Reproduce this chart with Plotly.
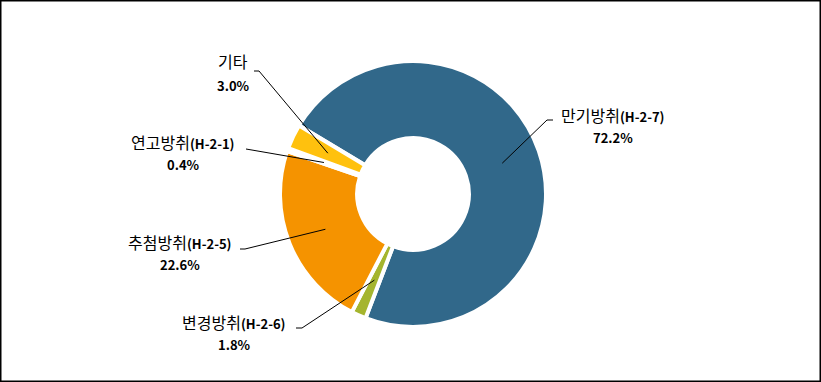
import plotly.graph_objects as go
import numpy as np

# ---- data ----
labels = ["만기방취", "변경방취", "추첨방취", "연고방취", "기타"]
codes = ["(H-2-7)", "(H-2-6)", "(H-2-5)", "(H-2-1)", ""]
values = [72.2, 1.8, 22.6, 0.4, 3.0]
pct_text = ["72.2%", "1.8%", "22.6%", "0.4%", "3.0%"]
colors = ["#31688A", "#A5B52E", "#F59300", "#F2F2F2", "#FFC10E"]

# ---- layout constants (pixels) ----
W, H = 821, 382
CX, CY, R = 413, 194, 133
HOLE = 0.42
ROT = -59

# label centres: (x, y of name line, y of percent line)
label_pos = [(613, 115, 137), (234, 322, 344), (180, 242, 264), (183, 142, 164), (233, 61, 85)]
# leader line points from slice toward label
elbows = [[(547, 120), (553, 120)], [(302, 328), (296, 328)], [(245, 249), (240, 249)],
          [(246, 149)], [(259, 71), (254, 71)]]

FONT = "Noto Sans CJK KR"


def px(x):
    return x / W


def py(y):
    return 1 - y / H


fig = go.Figure(go.Pie(
    labels=labels, values=values, sort=False, direction="clockwise",
    rotation=ROT, hole=HOLE, textinfo="none", hoverinfo="skip",
    marker=dict(colors=colors, line=dict(color="white", width=4)),
    domain=dict(x=[px(CX - R), px(CX + R)], y=[py(CY + R), py(CY - R)]),
    showlegend=False,
))

total = sum(values)
cum = np.cumsum([0] + values[:-1])
r_anchor = R * (1 + HOLE) / 2
shapes = []
annotations = []
for i, v in enumerate(values):
    theta = np.deg2rad(ROT + 360 * (cum[i] + v / 2) / total)
    ax = CX + r_anchor * np.sin(theta)
    ay = CY - r_anchor * np.cos(theta)
    pts = [(ax, ay)] + elbows[i]
    path = "M " + " L ".join(f"{px(x)},{py(y)}" for x, y in pts)
    shapes.append(dict(type="path", xref="paper", yref="paper", path=path,
                       line=dict(color="black", width=1)))
    lx, ly1, ly2 = label_pos[i]
    name = labels[i]
    if codes[i]:
        name += f"<span style='font-size:13px'><b>{codes[i]}</b></span>"
    annotations.append(dict(x=px(lx), y=py(ly1), xref="paper", yref="paper", text=name,
                            showarrow=False, xanchor="center", yanchor="middle",
                            font=dict(family=FONT, size=16, color="black")))
    annotations.append(dict(x=px(lx), y=py(ly2), xref="paper", yref="paper",
                            text=f"<b>{pct_text[i]}</b>",
                            showarrow=False, xanchor="center", yanchor="middle",
                            font=dict(family=FONT, size=13, color="black")))

shapes.append(dict(type="rect", xref="paper", yref="paper",
                   x0=0.75 / W, x1=1 - 0.75 / W, y0=0.75 / H, y1=1 - 0.75 / H,
                   line=dict(color="black", width=1.5)))

fig.update_layout(
    width=W, height=H, margin=dict(l=0, r=0, t=0, b=0),
    paper_bgcolor="white", plot_bgcolor="white",
    shapes=shapes, annotations=annotations,
)

fig.write_html("out.html")
